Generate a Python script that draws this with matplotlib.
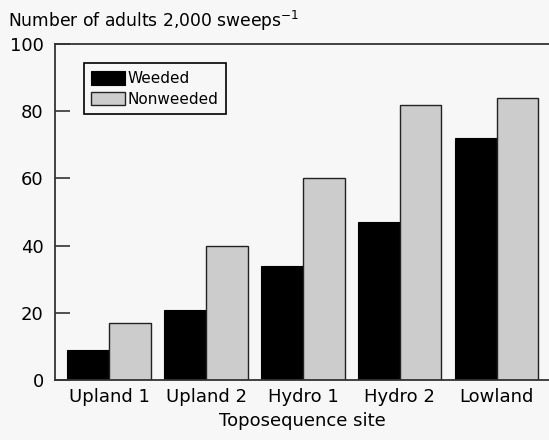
import numpy as np
import matplotlib
matplotlib.use("Agg")
import matplotlib.pyplot as plt

sites = ["Upland 1", "Upland 2", "Hydro 1", "Hydro 2", "Lowland"]
weeded = [9, 21, 34, 47, 72]
nonweeded = [17, 40, 60, 82, 84]

plt.rcParams['font.family'] = ['DejaVu Sans']

fig = plt.figure(figsize=(5.49, 4.40), dpi=100, facecolor='#f7f7f7')
ax = fig.add_axes([0.1, 0.136, 0.9, 0.764], facecolor='#f7f7f7')

x = np.arange(len(sites))
w = 0.43
ax.bar(x - w/2, weeded, w, color='black', edgecolor='black', linewidth=0.8, label='Weeded')
ax.bar(x + w/2, nonweeded, w, color='#cccccc', edgecolor='#222222', linewidth=1.0, label='Nonweeded')

ax.set_xlim(-0.56, 4.54)
ax.set_ylim(0, 100)
ax.set_yticks(range(0, 101, 20))
ax.set_xticks(x)
ax.set_xticklabels(sites)
ax.tick_params(axis='y', direction='in', length=11, width=1.2, color='#333333', labelsize=13, pad=8)
ax.tick_params(axis='x', length=0, labelsize=13, pad=6)
ax.set_xlabel('Toposequence site', fontsize=13, labelpad=4)

for s in ['left', 'bottom', 'top']:
    ax.spines[s].set_color('#333333')
    ax.spines[s].set_linewidth(1.3)
ax.spines['right'].set_visible(False)

fig.text(0.015, 0.952, 'Number of adults 2,000 sweeps$^{-1}$', fontsize=12.3, va='center', ha='left')

leg = ax.legend(loc='upper left', bbox_to_anchor=(0.058, 0.942), fontsize=11, frameon=True,
                fancybox=False, handlelength=2.2, handleheight=1.0, handletextpad=0.2,
                borderpad=0.5, labelspacing=0.35, borderaxespad=0)
leg.get_frame().set_edgecolor('black')
leg.get_frame().set_linewidth(1.2)
leg.get_frame().set_facecolor('#f7f7f7')
leg.get_frame().set_alpha(1)

fig.savefig('out.png', dpi=100, facecolor=fig.get_facecolor())
